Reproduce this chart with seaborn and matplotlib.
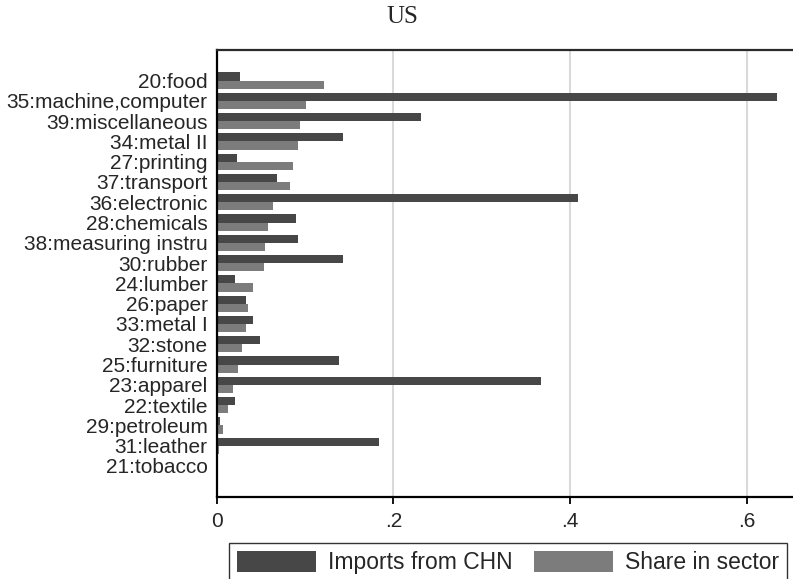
import matplotlib
matplotlib.use("Agg")
import matplotlib.pyplot as plt
import seaborn as sns
import pandas as pd

# Sector labels, top to bottom
sectors = [
    "20:food", "35:machine,computer", "39:miscellaneous", "34:metal II",
    "27:printing", "37:transport", "36:electronic", "28:chemicals",
    "38:measuring instru", "30:rubber", "24:lumber", "26:paper",
    "33:metal I", "32:stone", "25:furniture", "23:apparel",
    "22:textile", "29:petroleum", "31:leather", "21:tobacco",
]
imports_from_chn = [
    0.026, 0.634, 0.231, 0.143, 0.023, 0.068, 0.409, 0.090, 0.092, 0.143,
    0.021, 0.033, 0.041, 0.049, 0.139, 0.367, 0.021, 0.004, 0.184, 0.0,
]
share_in_sector = [
    0.121, 0.101, 0.094, 0.092, 0.086, 0.083, 0.064, 0.058, 0.055, 0.054,
    0.041, 0.035, 0.033, 0.029, 0.024, 0.019, 0.013, 0.007, 0.003, 0.0,
]
series_names = ["Imports from CHN", "Share in sector"]
x_ticks = [0, 0.2, 0.4, 0.6]
x_tick_labels = ["0", ".2", ".4", ".6"]

df = pd.DataFrame({
    "sector": sectors * 2,
    "value": imports_from_chn + share_in_sector,
    "series": [series_names[0]] * len(sectors) + [series_names[1]] * len(sectors),
})

sns.set_style("white")
plt.rcParams["font.family"] = ["Liberation Sans", "DejaVu Sans"]

W, H = 793, 579
fig = plt.figure(figsize=(W / 100, H / 100), dpi=100)

# axes in pixel terms: left edge 216.6, top 49.5, bottom 497; runs past right edge
left_px, top_px, bot_px = 216.6, 49.5, 497.0
xmax = 0.665
px_per_unit = 883.5
ax = fig.add_axes([left_px / W, 1 - bot_px / H,
                   xmax * px_per_unit / W, (bot_px - top_px) / H])

dark, light = "#474747", "#7c7c7c"
sns.barplot(data=df, x="value", y="sector", hue="series", order=sectors,
            hue_order=series_names, palette=[dark, light], orient="h",
            saturation=1, width=0.8, linewidth=0, ax=ax, legend=False)

ax.set_xlim(0, xmax)
ax.set_ylim(20.53, -1.53)
ax.set_xticks(x_ticks)
ax.set_xticklabels(x_tick_labels)
ax.set_xlabel("")
ax.set_ylabel("")

# vertical grid lines behind bars
ax.set_axisbelow(True)
for xv in x_ticks[1:]:
    ax.axvline(xv, color="#d9d9d9", lw=1.5, zorder=0)

ax.tick_params(axis="x", length=5, width=1.3, color="black", pad=6,
               labelsize=15, direction="out", bottom=True)
ax.tick_params(axis="y", length=0, pad=6.5, labelsize=15)

for side in ["left", "bottom"]:
    ax.spines[side].set_color("black")
    ax.spines[side].set_linewidth(1.6)
ax.spines["top"].set_color("#2a2a2a")
ax.spines["top"].set_linewidth(1.6)
ax.spines["right"].set_visible(False)

# legend below the plot
handles = [plt.Rectangle((0, 0), 1, 1, facecolor=c, edgecolor="none") for c in (dark, light)]
leg = fig.legend(handles, series_names, loc="upper left",
                 bbox_to_anchor=(229.4 / W, 1 - 543 / H), ncol=2,
                 frameon=True, fancybox=False, edgecolor="black",
                 fontsize=16.5, handlelength=3.45, handleheight=1.05,
                 handletextpad=0.5, columnspacing=0.95, borderpad=0.35,
                 borderaxespad=0)
leg.get_frame().set_linewidth(1.0)

fig.text(402 / W, 1 - 16.7 / H, "US", ha="center", va="center",
         family=["Liberation Serif", "DejaVu Serif"], fontsize=18)

fig.savefig("out.png", dpi=100)
